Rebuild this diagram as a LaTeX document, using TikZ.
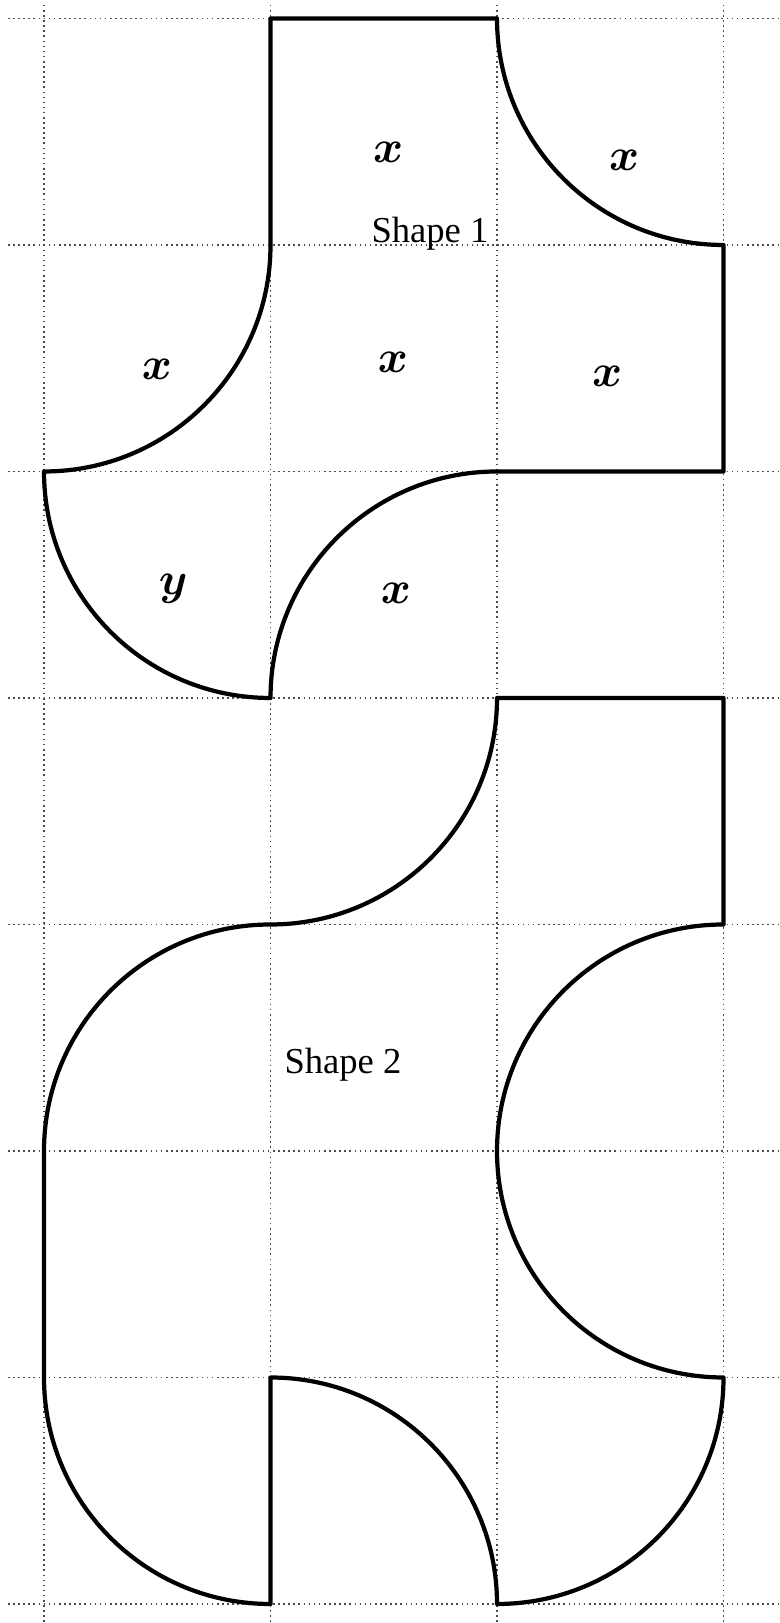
\RequirePackage{fix-cm}
\documentclass[tikz,border=0pt]{standalone}
\usepackage{fontspec}
\setmainfont{Liberation Serif}
\begin{document}
\begin{tikzpicture}[x=2.265cm,y=2.265cm,
  gridline/.style={densely dotted,line width=0.45pt,black!70},
  outline/.style={line width=1.2pt,black,line join=round},
  lbl/.style={anchor=base,inner sep=0pt,font=\fontsize{13pt}{15pt}\selectfont\boldmath},
  shapename/.style={anchor=base,inner sep=0pt,font=\fontsize{10.4pt}{12pt}\selectfont}]
\useasboundingbox (-0.1943,-0.0839) rectangle (3.245,7.0817);
\fill[white] (-0.1943,-0.0839) rectangle (3.245,7.0817);
% grid
\foreach \r in {0,...,7} \draw[gridline] (-0.159,\r) -- (3.245,\r);
\foreach \c in {0,...,3} \draw[gridline] (\c,7.06) -- (\c,-0.0839);
% Shape 1
\draw[outline] (1,7) -- (2,7)
  arc[start angle=180,end angle=270,radius=2.265cm]
  -- (3,5) -- (2,5)
  arc[start angle=90,end angle=180,radius=2.265cm]
  arc[start angle=270,end angle=180,radius=2.265cm]
  arc[start angle=270,end angle=360,radius=2.265cm]
  -- cycle;
% Shape 2
\draw[outline] (2,4) -- (3,4) -- (3,3)
  arc[start angle=90,end angle=270,radius=2.265cm]
  arc[start angle=0,end angle=-90,radius=2.265cm]
  arc[start angle=0,end angle=90,radius=2.265cm]
  -- (1,0)
  arc[start angle=270,end angle=180,radius=2.265cm]
  -- (0,2)
  arc[start angle=180,end angle=90,radius=2.265cm]
  arc[start angle=270,end angle=360,radius=2.265cm]
  -- cycle;
% labels
\node[lbl] (xa) at (1.519,6.362) {$x$};
\node[lbl] (xb) at (2.561,6.331) {$x$};
\node[shapename] (s1) at (1.704,6.013) {Shape 1};
\node[lbl] (xc) at (0.499,5.404) {$x$};
\node[lbl] (xd) at (1.541,5.435) {$x$};
\node[lbl] (xe) at (2.486,5.373) {$x$};
\node[lbl] (ya) at (0.570,4.455) {$y$};
\node[lbl] (xf) at (1.554,4.419) {$x$};
\node[shapename] (s2) at (1.320,2.344) {Shape 2};
\end{tikzpicture}
\end{document}
